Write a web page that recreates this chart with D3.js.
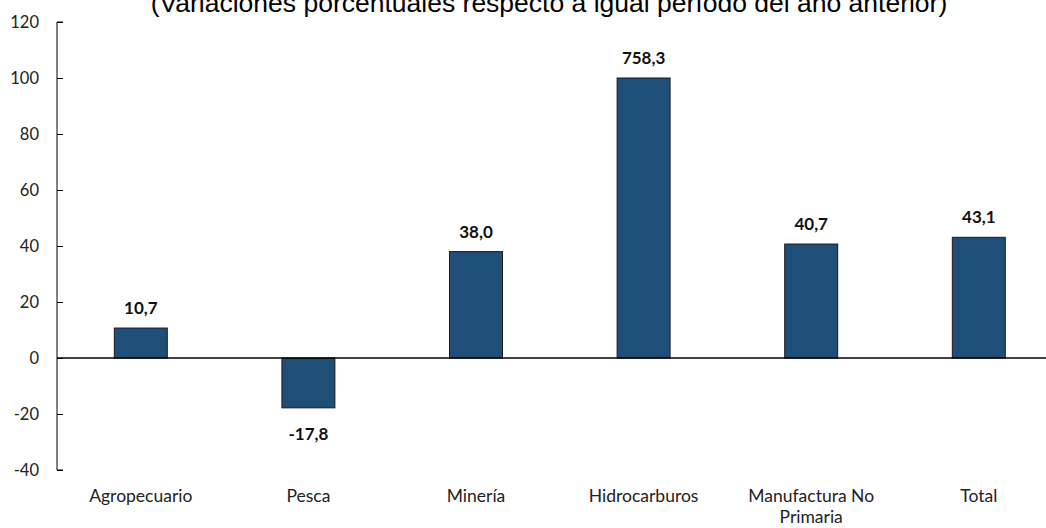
<!DOCTYPE html>
<html><head><meta charset="utf-8">
<script src="https://cdn.jsdelivr.net/npm/d3@7"></script>
<style>body{margin:0;background:#fff}svg{display:block}</style>
</head><body>
<svg id="c" width="1046" height="528"></svg>
<script>
const categories = ["Agropecuario","Pesca","Minería","Hidrocarburos","Manufactura No|Primaria","Total"];
const values = [10.7, -17.8, 38.0, 758.3, 40.7, 43.1];
const displayCap = 100; // bar drawn truncated at this value
const yTicks = [-40,-20,0,20,40,60,80,100,120];
const title = "(Variaciones porcentuales respecto a igual período del año anterior)";

const svg = d3.select("#c");
const x0 = 57, step = 167.6;
const x = d3.scaleBand().domain(categories).range([x0, x0 + step*categories.length]).paddingInner(0.684).paddingOuter(0.342);
const y = d3.scaleLinear().domain([-40,120]).range([470,22]);
const fmt = v => v.toFixed(1).replace(".", ",");
const font = "Lato, 'Open Sans', sans-serif";

svg.append("text").attr("x", 549).attr("y", 12).attr("text-anchor","middle")
  .attr("font-family","'Liberation Sans', Arial, sans-serif").attr("font-size", 26.5).attr("fill","#000").text(title);

const ax = svg.append("g").attr("transform",`translate(${x0},0)`)
  .call(d3.axisLeft(y).tickValues(yTicks).tickSizeInner(-6).tickSizeOuter(0).tickPadding(18).tickFormat(d=>d));
ax.select(".domain").attr("stroke","#000").attr("d", `M6,${y(120)}H0V${y(-40)}H6`);
ax.selectAll(".tick line").attr("stroke","#000");
ax.selectAll(".tick text").attr("font-family",font).attr("font-size",16.5).attr("fill","#222");

svg.selectAll("rect.bar").data(values).join("rect").attr("class","bar")
  .attr("x",(d,i)=>x(categories[i]))
  .attr("width",x.bandwidth())
  .attr("y",d=>y(Math.max(0,Math.min(d,displayCap))))
  .attr("height",d=>Math.abs(y(Math.min(d,displayCap))-y(0)))
  .attr("fill","#1F4E79").attr("stroke","#1a1a1a").attr("stroke-width",1);

svg.append("line").attr("x1",x0).attr("x2",1046).attr("y1",y(0)).attr("y2",y(0)).attr("stroke","#000").attr("stroke-width",1.3);

svg.selectAll("text.lbl").data(values).join("text").attr("class","lbl")
  .attr("x",(d,i)=>x(categories[i])+x.bandwidth()/2)
  .attr("y",d=> d>=0 ? y(Math.min(d,displayCap)) - 14 : y(d) + 32)
  .attr("text-anchor","middle").attr("font-family",font).attr("font-weight","bold")
  .attr("font-size",17).attr("fill","#111").text(fmt);

const cl = svg.append("g");
categories.forEach(c=>{
  const t = cl.append("text").attr("x", x(c)+x.bandwidth()/2).attr("y", 502).attr("text-anchor","middle")
    .attr("font-family",font).attr("font-size",17.5).attr("fill","#222");
  c.split("|").forEach((s,k)=> t.append("tspan").attr("x", x(c)+x.bandwidth()/2).attr("dy", k?21:0).text(s));
});
</script>
</body></html>
